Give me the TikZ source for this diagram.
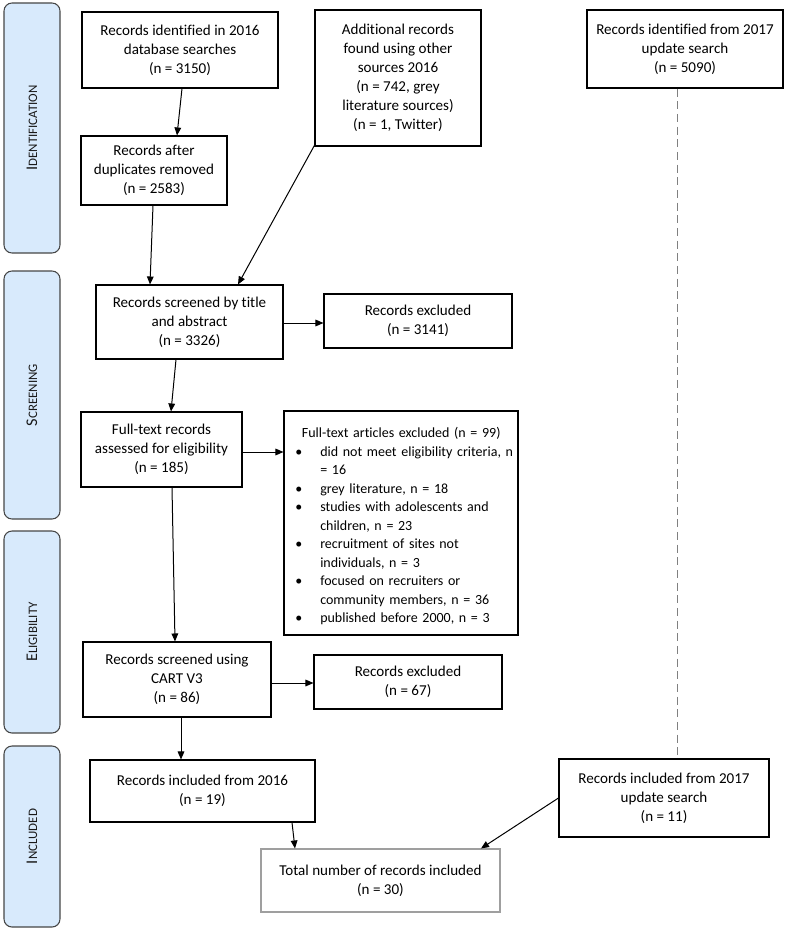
\documentclass[tikz,border=0pt]{standalone}
\usepackage{fontspec}
\setmainfont[Ligatures={NoCommon}]{Carlito}
\usetikzlibrary{arrows.meta,calc}
\definecolor{sideblue}{RGB}{216,234,252}
\definecolor{sideedge}{RGB}{70,70,70}
\definecolor{sidetext}{RGB}{25,25,25}
\newcommand\mysc[2]{{\fontsize{12.2}{13}\selectfont #1}{\fontsize{9.7}{13}\selectfont #2}}
\newcommand\bul{\makebox[18.75pt][l]{\textbullet}}
\newcommand\cont{\hspace*{18.75pt}}
\begin{document}
\begin{tikzpicture}[x=0.75pt,y=-0.75pt,
  sz/.style 2 args={minimum width=#1*0.75pt,minimum height=#2*0.75pt},
  box/.style={draw=black,line width=0.8pt,fill=white,align=center,inner sep=0pt,
    font=\fontsize{11.3}{14.2}\selectfont},
  side/.style={draw=sideedge,fill=sideblue,rounded corners=6pt,line width=0.8pt,
    inner sep=0pt,rotate=90,text=sidetext},
  htext/.style={inner sep=0pt,align=left,text width=180pt,
    font=\fontsize{10.5}{13.9}\selectfont},
  arr/.style={-{Triangle[length=6pt,width=5pt]},line width=0.75pt},
  dline/.style={draw=gray,line width=0.6pt,dash pattern=on 6pt off 3.5pt}]
\useasboundingbox (0,0) rectangle (792,931);

% side labels
\node[side,sz={250}{56}] (s1) at (32,128) {\mysc{I}{DENTIFICATION}};
\node[side,sz={248}{56}] (s2) at (32,395) {\mysc{S}{CREENING}};
\node[side,sz={202}{56}] (s3) at (32,632) {\mysc{E}{LIGIBILITY}};
\node[side,sz={181}{56}] (s4) at (32,836.5) {\mysc{I}{NCLUDED}};

% boxes
\node[box,sz={196}{76}] (A) at (180,50) {Records identified in 2016\\database searches\\(n = 3150)};
\node[box,sz={146}{69}] (B) at (154,170.5) {Records after\\duplicates removed\\(n = 2583)};
\node[box,sz={166}{136}] (C) at (398,78) {Additional records\\found using other\\sources 2016\\(n = 742, grey\\literature sources)\\(n = 1, Twitter)};
\node[box,sz={196}{78}] (D) at (685,49) {Records identified from 2017\\update search\\(n = 5090)};
\node[box,sz={187}{74}] (E) at (189.5,322) {Records screened by title\\and abstract\\(n = 3326)};
\node[box,sz={188}{54}] (F) at (418,321) {Records excluded\\(n = 3141)};
\node[box,sz={161}{75}] (G) at (161.5,449.5) {Full-text records\\assessed for eligibility\\(n = 185)};
\node[box,sz={234}{224}] (H) at (401,523) {};
\node[htext,anchor=north west] (Ht) at (295,427) {%
\makebox[159pt][c]{Full-text articles excluded (n = 99)}\\
\bul did not meet eligibility criteria, n\\
\cont = 16\\
\bul grey literature, n = 18\\
\bul studies with adolescents and\\
\cont children, n = 23\\
\bul recruitment of sites not\\
\cont individuals, n = 3\\
\bul focused on recruiters or\\
\cont community members, n = 36\\
\bul published before 2000, n = 3};
\node[box,sz={188}{75}] (I) at (177,679.5) {Records screened using\\CART V3\\(n = 86)};
\node[box,sz={188}{54}] (J) at (408,682) {Records excluded\\(n = 67)};
\node[box,sz={225}{62}] (K) at (202.5,791) {Records included from 2016\\(n = 19)};
\node[box,sz={210}{78}] (L) at (664,798) {Records included from 2017\\update search\\(n = 11)};
\node[box,draw=gray!75,sz={239}{63}] (M) at (380.5,880.5) {Total number of records included\\(n = 30)};

% connectors
\draw[arr] ($(A.south)+(2,0)$) -- ($(B.north)+(23,0)$);
\draw[arr] ($(B.south)+(-1,0)$) -- ($(E.north)+(-39.5,0)$);
\draw[arr] ($(C.south west)+(1,-3)$) -- ($(E.north)+(48.5,0)$);
\coordinate (ef) at ($(E.east)+(0,1)$);
\draw[arr] (ef) -- (ef -| F.west);
\draw[arr] ($(E.south)+(-13.5,0)$) -- ($(G.north)+(9.5,0)$);
\coordinate (gh) at ($(G.east)+(0,2.5)$);
\draw[arr] (gh) -- (gh -| H.west);
\draw[arr] ($(G.south)+(10.5,0)$) -- ($(I.north)+(-2,0)$);
\coordinate (ij) at ($(I.east)+(0,3.5)$);
\draw[arr] (ij) -- (ij -| J.west);
\draw[arr] ($(I.south)+(4,0)$) -- ($(K.north)+(-21.5,0)$);
\draw[arr] ($(K.south)+(89.5,0)$) -- ($(M.north)+(-85.5,0)$);
\draw[arr] (L.west) -- ($(M.north)+(100.5,0)$);
\draw[dline] ($(D.south)+(-8,0)$) -- ($(L.north)+(13,0)$);
\end{tikzpicture}
\end{document}
